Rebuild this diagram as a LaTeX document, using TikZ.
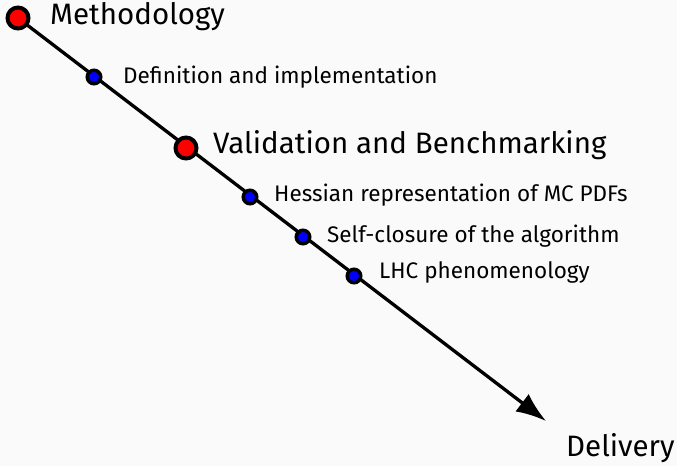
\documentclass[tikz,border=0pt]{standalone}
\usepackage{fontspec}
\setmainfont{Fira Sans}
\usetikzlibrary{positioning,arrows.meta}

\begin{document}
\begin{tikzpicture}[x=1pt, y=-1pt,
      milestone/.style={circle, draw=black, line width=4pt, fill=red, inner sep=0pt, minimum size=21pt},
      substep/.style={circle, draw=black, line width=3.5pt, fill=blue, inner sep=0pt, minimum size=13.5pt},
      bigtext/.style={anchor=west, inner sep=0pt, font=\fontsize{29.5}{34}\selectfont},
      smalltext/.style={anchor=west, inner sep=0pt, font=\fontsize{22.5}{27}\selectfont}]
      \fill [black!2] (0, 0) rectangle (677, 466);
      % timeline
      \coordinate (start) at (18, 18);
      \coordinate (tip) at (546, 421);
      \draw [line width=3.3pt, -{Latex[length=30pt, width=22pt]}] (start) -- (tip);
      % milestones and steps
      \node (meth) [milestone] at (18, 18) {};
      \node (defn) [substep] at (94, 77) {};
      \node (valid) [milestone] at (186, 148) {};
      \node (hess) [substep] at (250, 197) {};
      \node (closure) [substep] at (303, 237) {};
      \node (lhc) [substep] at (354, 276) {};
      % labels
      \node (methtext) [bigtext] at (50, 17) {Methodology};
      \node (defntext) [smalltext] at (123, 77) {Definition and implementation};
      \node (validtext) [bigtext] at (213, 145) {Validation and Benchmarking};
      \node (hesstext) [smalltext] at (274, 195) {Hessian representation of MC PDFs};
      \node (closuretext) [smalltext] at (327, 236) {Self-closure of the algorithm};
      \node (lhctext) [smalltext] at (379, 272) {LHC phenomenology};
      \node (deliv) [bigtext] at (566, 448) {Delivery};
\end{tikzpicture}
\end{document}
